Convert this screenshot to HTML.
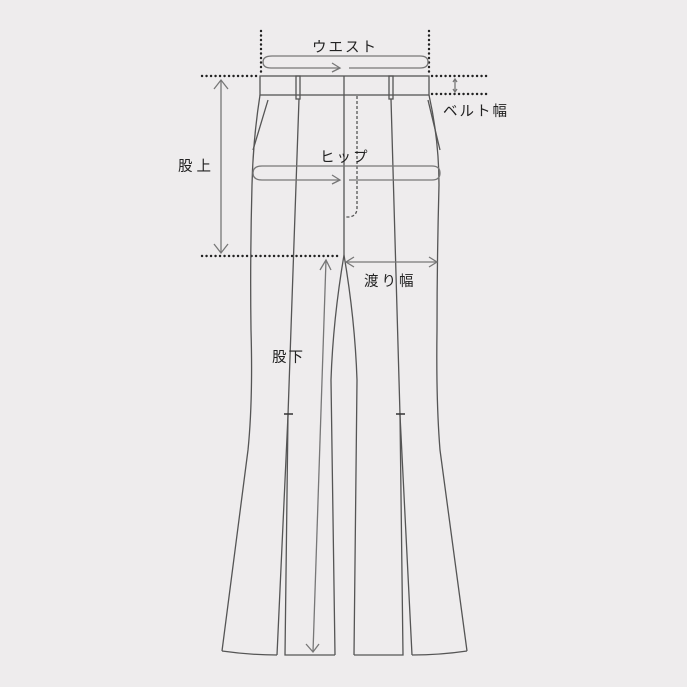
<!DOCTYPE html>
<html><head><meta charset="utf-8"><style>
html,body{margin:0;padding:0;background:#eeeced;}
svg{display:block}
text{font-family:"Liberation Sans","Noto Sans CJK JP",sans-serif;font-size:14.5px;fill:#222;letter-spacing:2px;}
</style></head><body>
<svg width="687" height="687" viewBox="0 0 687 687" xmlns="http://www.w3.org/2000/svg">
<rect width="687" height="687" fill="#eeeced"/>
<g fill="none" stroke="#222" stroke-width="2.4" stroke-dasharray="0.1 4.4" stroke-linecap="round">
<line x1="261" y1="31" x2="261" y2="76"/>
<line x1="429" y1="31" x2="429" y2="76"/>
<line x1="202" y1="76" x2="258" y2="76"/>
<line x1="432" y1="76" x2="488" y2="76"/>
<line x1="432" y1="94" x2="488" y2="94"/>
<line x1="202" y1="256" x2="340" y2="256"/>
</g>
<g fill="none" stroke="#555" stroke-width="1.3">
<rect x="260" y="76" width="169" height="19"/>
<rect x="296" y="76" width="4" height="23"/>
<rect x="389" y="76" width="4" height="23"/>
<line x1="344" y1="76" x2="344" y2="255"/>
<path d="M357 96 L357 208 Q357 216 349 217 L344 217" stroke-dasharray="3 2"/>
<path d="M260 95 Q253 140 252 185 Q250 260 251 330 Q253 400 248 450 L222 651"/>
<path d="M222 651 Q250 655 277 655"/>
<path d="M268 100 L253 150"/>
<path d="M299 99 L288 415 L277 655"/>
<path d="M288 415 L285 655 L335 655"/>
<path d="M344 255 Q333 320 331 380 L335 655"/>
<path d="M429 95 Q439 140 439 185 Q437 260 437 330 Q436 400 440 450 L467 651"/>
<path d="M412 655 Q440 655 467 651"/>
<path d="M428 100 L440 150"/>
<path d="M391 99 L400 415 L412 655"/>
<path d="M400 415 L403 655 L354 655"/>
<path d="M344 255 Q355 320 357 380 L354 655"/>
</g>
<g stroke="#333" stroke-width="1.5"><line x1="284" y1="414" x2="293" y2="414"/><line x1="396" y1="414" x2="405" y2="414"/></g>
<g fill="none" stroke="#777" stroke-width="1.3">
<path d="M340 68 L271 68 Q263 68 263 62 Q263 56 272 56 L420 56 Q428 56 428 62 Q428 68 420 68 L349 68"/>
<path d="M332 63 L340 68 L332 72"/>
<path d="M340 180 L262 180 Q253 180 253 173 Q253 166 262 166 L432 166 Q440 166 440 173 Q440 180 432 180 L349 180"/>
<path d="M332 175 L340 180 L332 184"/>
<line x1="221" y1="80" x2="221" y2="253"/>
<path d="M214 89 L221 80 L228 89 M214 244 L221 253 L228 244"/>
<line x1="455" y1="79" x2="455" y2="92"/>
<path d="M453 82 L455 79 L457 82 M453 89 L455 92 L457 89"/>
<line x1="346" y1="262" x2="437" y2="262"/>
<path d="M354 257 L346 262 L354 267 M429 257 L437 262 L429 267"/>
<path d="M326 260 L313 652"/>
<path d="M320 270 L326 260 L331 270 M306 644 L313 652 L319 644"/>
</g>
<text x="312" y="52">ウエスト</text>
<text x="320" y="162">ヒップ</text>
<text x="443" y="116">ベルト幅</text>
<text x="178" y="171" style="letter-spacing:4px">股上</text>
<text x="364" y="286" style="letter-spacing:3px">渡り幅</text>
<text x="272" y="362">股下</text>
</svg>
</body></html>
